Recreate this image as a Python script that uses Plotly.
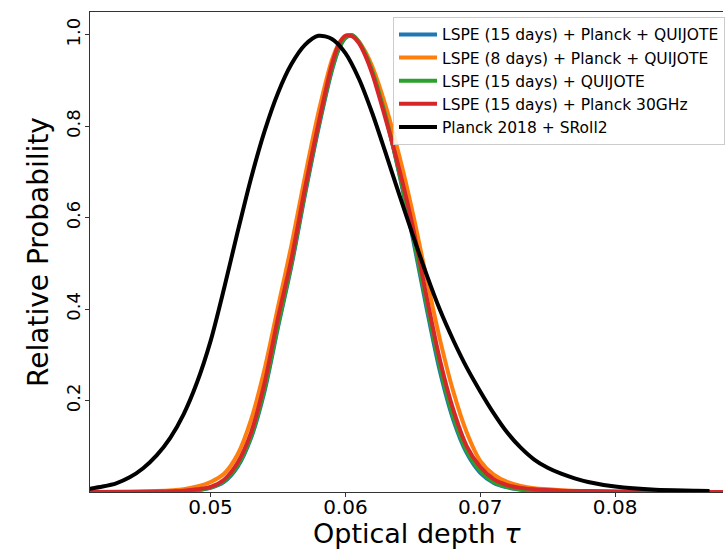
import plotly.graph_objects as go

# optical depth grid for the LSPE curves
TAU = [0.041, 0.044, 0.046, 0.048, 0.049, 0.050, 0.051, 0.052, 0.053, 0.054,
       0.055, 0.056, 0.057, 0.058, 0.059, 0.0595, 0.060, 0.0605, 0.061, 0.0615,
       0.062, 0.063, 0.064, 0.065, 0.066, 0.067, 0.068, 0.069, 0.070, 0.071,
       0.072, 0.073, 0.074, 0.076, 0.078, 0.080, 0.083, 0.086, 0.088]

LSPE15_PLANCK_QUIJOTE = [0.000, 0.000, 0.000, 0.002, 0.004, 0.009, 0.022, 0.055, 0.118, 0.220,
                         0.360, 0.495, 0.650, 0.795, 0.922, 0.968, 0.993, 0.999, 0.985, 0.958,
                         0.922, 0.822, 0.695, 0.555, 0.405, 0.265, 0.158, 0.085, 0.042, 0.020,
                         0.010, 0.005, 0.003, 0.001, 0.000, 0.000, 0.000, 0.000, 0.000]

LSPE8_PLANCK_QUIJOTE = [0.000, 0.001, 0.002, 0.006, 0.012, 0.022, 0.040, 0.082, 0.158, 0.268,
                        0.405, 0.540, 0.690, 0.830, 0.945, 0.980, 0.998, 0.997, 0.985, 0.962,
                        0.930, 0.843, 0.735, 0.610, 0.470, 0.335, 0.220, 0.130, 0.068, 0.038,
                        0.022, 0.013, 0.008, 0.004, 0.002, 0.001, 0.000, 0.000, 0.000]

LSPE15_QUIJOTE = [0.000, 0.000, 0.000, 0.002, 0.004, 0.010, 0.024, 0.058, 0.122, 0.225,
                  0.365, 0.500, 0.655, 0.800, 0.926, 0.970, 0.994, 0.999, 0.984, 0.957,
                  0.920, 0.820, 0.697, 0.562, 0.415, 0.275, 0.165, 0.090, 0.046, 0.022,
                  0.011, 0.006, 0.003, 0.001, 0.000, 0.000, 0.000, 0.000, 0.000]

LSPE15_PLANCK30 = [0.000, 0.000, 0.001, 0.003, 0.006, 0.011, 0.027, 0.064, 0.130, 0.238,
                   0.381, 0.510, 0.664, 0.806, 0.935, 0.979, 0.998, 0.997, 0.982, 0.953,
                   0.914, 0.814, 0.705, 0.580, 0.430, 0.290, 0.180, 0.100, 0.055, 0.028,
                   0.015, 0.009, 0.006, 0.003, 0.002, 0.001, 0.000, 0.000, 0.000]

# Planck 2018 + SRoll2 curve
TAU_PLANCK = [0.041, 0.042, 0.043, 0.044, 0.045, 0.046, 0.047, 0.048, 0.049, 0.050,
              0.051, 0.052, 0.053, 0.054, 0.055, 0.056, 0.057, 0.058, 0.059, 0.060,
              0.061, 0.062, 0.063, 0.064, 0.065, 0.066, 0.067, 0.068, 0.069, 0.070,
              0.071, 0.072, 0.073, 0.074, 0.075, 0.076, 0.077, 0.078, 0.080, 0.083,
              0.086, 0.087]
PLANCK_SROLL2 = [0.007, 0.012, 0.019, 0.032, 0.052, 0.080, 0.118, 0.170, 0.240, 0.330,
                 0.445, 0.568, 0.686, 0.789, 0.873, 0.936, 0.978, 0.998, 0.991, 0.960,
                 0.904, 0.828, 0.740, 0.650, 0.562, 0.477, 0.399, 0.332, 0.272, 0.220,
                 0.172, 0.130, 0.097, 0.071, 0.053, 0.040, 0.030, 0.022, 0.012, 0.005,
                 0.003, 0.002]

SERIES = [
    ("LSPE (15 days) + Planck + QUIJOTE", TAU, LSPE15_PLANCK_QUIJOTE, "#1f77b4"),
    ("LSPE (8 days) + Planck + QUIJOTE", TAU, LSPE8_PLANCK_QUIJOTE, "#ff7f0e"),
    ("LSPE (15 days) + QUIJOTE", TAU, LSPE15_QUIJOTE, "#2ca02c"),
    ("LSPE (15 days) + Planck 30GHz", TAU, LSPE15_PLANCK30, "#d62728"),
    ("Planck 2018 + SRoll2", TAU_PLANCK, PLANCK_SROLL2, "#000000"),
]

X_TICKS = [0.05, 0.06, 0.07, 0.08]
Y_TICKS = [0.2, 0.4, 0.6, 0.8, 1.0]

fig = go.Figure()
for i, (name, xs, ys, color) in enumerate(SERIES):
    fig.add_trace(go.Scatter(
        x=xs, y=ys, mode="lines", name=name,
        line=dict(color=color, width=4, shape="spline", smoothing=0.8),
        legendgroup=f"g{i}",
    ))

FONT = "DejaVu Sans"
fig.update_layout(
    width=725, height=550,
    margin=dict(l=90, r=0, t=12, b=58),
    paper_bgcolor="white", plot_bgcolor="white",
    font=dict(family=FONT, color="black"),
    showlegend=True,
    legend=dict(
        x=0.479, y=0.99, xanchor="left", yanchor="top",
        bgcolor="rgba(255,255,255,0.85)", bordercolor="#cccccc", borderwidth=1,
        font=dict(family=FONT, size=15.5, color="black"),
        tracegroupgap=2, traceorder="normal", itemwidth=38,
    ),
    xaxis=dict(
        range=[0.04106, 0.0880], tickvals=X_TICKS, ticktext=[f"{v:.2f}" for v in X_TICKS],
        showgrid=False, zeroline=False, showline=True, linecolor="#333333", linewidth=1.2,
        mirror=True, ticks="outside", ticklen=4, tickcolor="#333333",
        tickfont=dict(family=FONT, size=20), ticklabelstandoff=-7,
    ),
    yaxis=dict(
        range=[0, 1.05], tickvals=Y_TICKS, ticktext=[f"{v:.1f}" for v in Y_TICKS],
        showgrid=False, zeroline=False, showline=True, linecolor="#333333", linewidth=1.2,
        ticks="outside", ticklen=4, tickcolor="#333333", tickangle=-90,
        tickfont=dict(family=FONT, size=18), ticklabelstandoff=-2,
        title=dict(text="Relative Probability", font=dict(family=FONT, size=28), standoff=5),
    ),
    annotations=[dict(
        text="Optical depth <i>τ</i>", xref="paper", yref="paper",
        x=0.5165, y=-0.087, xanchor="center", yanchor="middle", showarrow=False,
        font=dict(family=FONT, size=27, color="black"),
    )],
)

fig.write_html(
    "out.html",
    config={"displayModeBar": False},
    post_script="document.body.style.margin='0px';document.body.style.overflow='hidden';",
)
